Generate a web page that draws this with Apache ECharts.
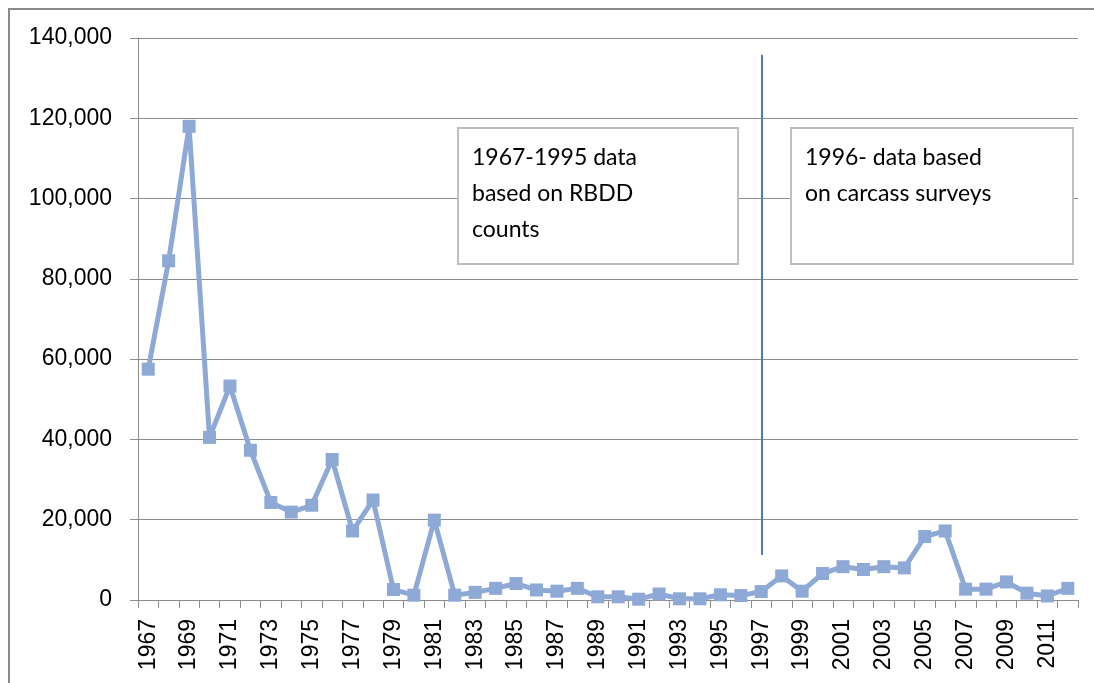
<!DOCTYPE html>
<html>
<head>
<meta charset="utf-8">
<script src="https://cdn.jsdelivr.net/npm/echarts@6/dist/echarts.min.js"></script>
<style>
html,body{margin:0;padding:0;background:#fff;}
#chart{width:1094px;height:683px;}
</style>
</head>
<body>
<div id="chart"></div>
<script>
const years = [];
for (let y = 1967; y <= 2012; y++) years.push(String(y));
const values = [
  57500, 84500, 118000, 40500, 53300, 37300, 24300, 21900, 23600, 35000,
  17200, 24900, 2600, 1200, 19900, 1200, 1900, 2900, 4100, 2500,
  2200, 2900, 800, 800, 200, 1500, 300, 300, 1300, 1100,
  2100, 6000, 2200, 6600, 8300, 7600, 8300, 8000, 15800, 17200,
  2700, 2700, 4500, 1700, 1000, 2900
];
const yTicks = { min: 0, max: 140000, interval: 20000 };
const dividerYear = '1997';
const dividerRange = [11200, 135800];
const noteLeft = '1967-1995 data\nbased on RBDD\ncounts';
const noteRight = '1996- data based\non carcass surveys';

const chart = echarts.init(document.getElementById('chart'));
const axisGray = '#8c8c8c';
chart.setOption({
  animation: false,
  backgroundColor: '#ffffff',
  grid: { left: 138, right: 16, top: 38, bottom: 83 },
  xAxis: {
    type: 'category',
    data: years,
    boundaryGap: true,
    axisLine: { lineStyle: { color: axisGray, width: 1 } },
    axisTick: { show: true, interval: 0, length: 8, lineStyle: { color: axisGray } },
    axisLabel: {
      interval: 1, rotate: 90, margin: 19,
      fontFamily: 'Liberation Sans', fontSize: 23, color: '#000'
    }
  },
  yAxis: {
    type: 'value',
    min: yTicks.min, max: yTicks.max, interval: yTicks.interval,
    axisLine: { show: true, lineStyle: { color: axisGray, width: 1 } },
    axisTick: { show: true, length: 8, lineStyle: { color: axisGray } },
    splitLine: { lineStyle: { color: '#8c8c8c', width: 1 } },
    axisLabel: {
      margin: 26, fontFamily: 'Liberation Sans', fontSize: 23, color: '#000',
      formatter: v => v.toLocaleString('en-US')
    }
  },
  series: [{
    type: 'line',
    data: values,
    symbol: 'rect',
    symbolSize: 13,
    lineStyle: { color: '#8EA9D6', width: 5 },
    itemStyle: { color: '#8EA9D6' },
    markLine: {
      silent: true,
      symbol: ['none', 'none'],
      label: { show: false },
      lineStyle: { color: '#4A7EBB', width: 2, type: 'solid' },
      data: [[
        { coord: [dividerYear, dividerRange[0]] },
        { coord: [dividerYear, dividerRange[1]] }
      ]]
    }
  }],
  graphic: [
    { type: 'rect', shape: { x: 9, y: 9, width: 1100, height: 700 },
      style: { fill: 'none', stroke: '#8a8a8a', lineWidth: 2 }, z: 0 },
    { type: 'rect', shape: { x: 458, y: 128, width: 280, height: 136 },
      style: { fill: '#fff', stroke: '#bfbfbf', lineWidth: 2 }, z: 10 },
    { type: 'text', x: 472, y: 140, z: 11,
      style: { text: noteLeft, fontFamily: 'Lato', fontSize: 23, lineHeight: 36, fill: '#000' } },
    { type: 'rect', shape: { x: 791, y: 128, width: 282, height: 136 },
      style: { fill: '#fff', stroke: '#bfbfbf', lineWidth: 2 }, z: 10 },
    { type: 'text', x: 805, y: 140, z: 11,
      style: { text: noteRight, fontFamily: 'Lato', fontSize: 23, lineHeight: 36, fill: '#000' } }
  ]
});
</script>
</body>
</html>
